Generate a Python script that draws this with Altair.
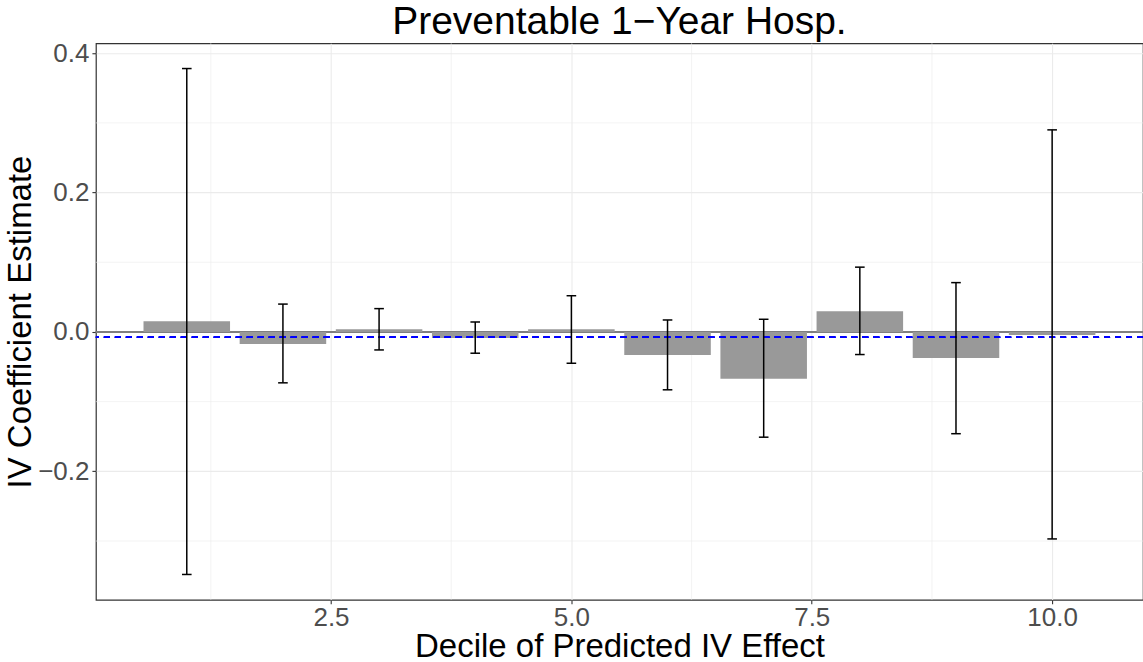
import altair as alt
import pandas as pd

# ---- data ----
deciles = [1, 2, 3, 4, 5, 6, 7, 8, 9, 10]
estimates = [0.0153, -0.0172, 0.0039, -0.0086, 0.0039, -0.0330, -0.0670, 0.0297, -0.0372, -0.0043]
ci_low = [-0.348, -0.073, -0.0258, -0.0305, -0.0449, -0.083, -0.151, -0.0324, -0.146, -0.297]
ci_high = [0.378, 0.040, 0.0335, 0.0143, 0.052, 0.0172, 0.0182, 0.093, 0.0708, 0.290]
overall_estimate = -0.0076

x_ticks = [2.5, 5.0, 7.5, 10.0]
x_minor = [1.25, 3.75, 6.25, 8.75]
y_ticks = [-0.2, 0.0, 0.2, 0.4]
y_minor = [-0.3, -0.1, 0.1, 0.3]

FONT = "Liberation Sans"

df = pd.DataFrame({"decile": deciles, "est": estimates, "lo": ci_low, "hi": ci_high})
df_xminor = pd.DataFrame({"xm": x_minor})
df_yminor = pd.DataFrame({"ym": y_minor})

xs = alt.Scale(domain=[0.055, 10.945], nice=False, zero=False)
ys = alt.Scale(domain=[-0.3843, 0.4143], nice=False, zero=False)

common_axis = dict(
    domain=False, grid=True, gridColor="#EBEBEB", gridWidth=1.1,
    tickColor="#333333", tickWidth=1.1, tickSize=4,
    labelColor="#4D4D4D", labelFont=FONT, labelFontSize=26,
    titleFont=FONT, titleColor="black", titleFontWeight="normal", titleFontSize=33,
    titleBaseline="alphabetic",
)
xaxis = alt.Axis(values=x_ticks, format=".1f", title="Decile of Predicted IV Effect",
                 titleY=57, labelPadding=1, **common_axis)
yaxis = alt.Axis(values=y_ticks, format=".1f", title="IV Coefficient Estimate",
                 titleX=-65, labelPadding=3, **common_axis)


def X(field, **kw):
    return alt.X(field, type="quantitative", scale=xs, axis=xaxis, **kw)


def Y(field, **kw):
    return alt.Y(field, type="quantitative", scale=ys, axis=yaxis, **kw)


base = alt.Chart(df)

minor_x = alt.Chart(df_xminor).mark_rule(color="#EBEBEB", strokeWidth=0.6).encode(x=X("xm"))
minor_y = alt.Chart(df_yminor).mark_rule(color="#EBEBEB", strokeWidth=0.6).encode(y=Y("ym"))

zero_line = base.mark_rule(color="#7F7F7F", strokeWidth=1.4).encode(
    y=alt.Y(datum=0, type="quantitative", scale=ys, axis=yaxis)
)

bars = base.transform_calculate(
    b0="datum.decile - 0.45", b1="datum.decile + 0.45"
).mark_rect(color="#999999").encode(
    x=X("b0:Q"), x2="b1:Q", y=Y("est:Q"),
    y2=alt.Y2(datum=0),
)

mean_line = base.mark_rule(color="#0000FF", strokeWidth=1.4, strokeDash=[6, 5]).encode(
    y=alt.Y(datum=overall_estimate, type="quantitative", scale=ys, axis=yaxis)
)

err_v = base.mark_rule(color="black", strokeWidth=1.5).encode(
    x=X("decile:Q"), y=Y("lo:Q"), y2="hi:Q"
)

caps = base.transform_calculate(c0="datum.decile - 0.05", c1="datum.decile + 0.05")
cap_lo = caps.mark_rule(color="black", strokeWidth=1.5).encode(x=X("c0:Q"), x2="c1:Q", y=Y("lo:Q"))
cap_hi = caps.mark_rule(color="black", strokeWidth=1.5).encode(x=X("c0:Q"), x2="c1:Q", y=Y("hi:Q"))

chart = alt.layer(
    minor_x, minor_y, zero_line, bars, mean_line, err_v, cap_lo, cap_hi
).properties(
    width=1048,
    height=557,
    background="white",
    title=alt.TitleParams(
        "Preventable 1\u2212Year Hosp.", fontSize=39, font=FONT, color="black",
        fontWeight="normal", anchor="middle", frame="group", baseline="bottom",
        offset=0, dy=41,
    ),
    autosize=alt.AutoSizeParams(type="none"),
    padding={"left": 96, "top": 43, "right": 0, "bottom": 62},
).configure_view(
    stroke="#333333", strokeWidth=1.2
)

chart.save("out.html", embed_options={"renderer": "svg", "actions": False})
